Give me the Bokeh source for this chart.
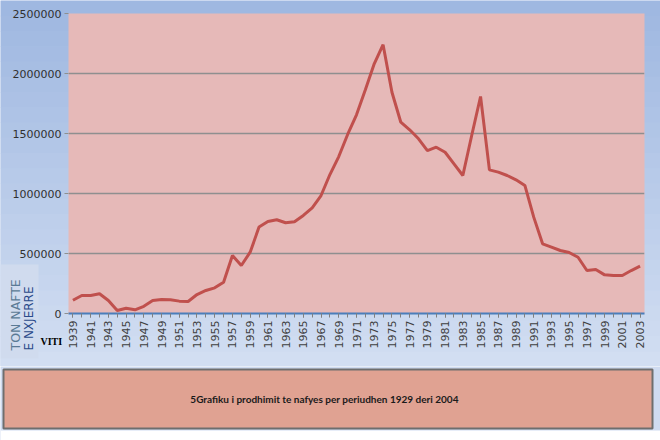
from math import pi
from bokeh.plotting import figure
from bokeh.models import FixedTicker, Label, NumeralTickFormatter, Range1d, GridBox
from bokeh.embed import file_html
from bokeh.resources import INLINE

years = list(range(1939, 2004))
production = [110000, 150000, 150000, 164000, 108000, 25000, 44000, 31000, 60000, 108000,
              117000, 114000, 103000, 100000, 158000, 192000, 214000, 261000, 483000, 400000,
              511000, 720000, 767000, 781000, 756000, 764000, 817000, 881000, 983000, 1158000,
              1308000, 1492000, 1656000, 1864000, 2081000, 2240000, 1844000, 1594000, 1531000, 1456000,
              1358000, 1386000, 1344000, 1247000, 1150000, 1483000, 1808000, 1197000, 1178000, 1150000,
              1114000, 1067000, 803000, 581000, 553000, 525000, 508000, 469000, 358000, 367000,
              322000, 317000, 317000, 358000, 394000]
y_ticks = [0, 500000, 1000000, 1500000, 2000000, 2500000]
label_years = years[::2]
caption = "5Grafiku i prodhimit te nafyes per periudhen 1929 deri 2004"
y_title_1 = "TON NAFTE"
y_title_2 = "E NXJERRE"
x_title = "VITI"

W, H1 = 660, 366
FL, FB = 68, 313  # frame left / bottom on the page


def blank(height):
    f = figure(width=W, height=height, x_range=Range1d(0, W), y_range=Range1d(height, 0),
               output_backend="svg", toolbar_location=None, min_border=0,
               x_axis_location=None, y_axis_location=None)
    f.frame_align = False
    f.outline_line_color = None
    f.grid.grid_line_color = None
    return f


# background gradient (underlay)
bg = blank(H1)
bg.background_fill_color = "#b7cae9"
bg.border_fill_color = "#b7cae9"
n = 24
c0, c1 = (0x9f, 0xb8, 0xe1), (0xd2, 0xde, 0xf2)
for i in range(n):
    t = i / (n - 1)
    col = "#%02x%02x%02x" % tuple(int(a + (b - a) * t) for a, b in zip(c0, c1))
    bg.quad(left=0, right=W, top=H1 * i / n, bottom=H1 * (i + 1) / n + 0.5,
            fill_color=col, line_color=None)
bg.quad(left=0, right=38, top=264, bottom=358, fill_color="#d0dbee", line_color=None)

# main chart
p = figure(width=W, height=H1, x_range=Range1d(1938.5, 2003.5), y_range=Range1d(0, 2500000),
           output_backend="svg", toolbar_location=None,
           min_border_left=FL, min_border_right=16, min_border_top=13, min_border_bottom=H1 - FB)
p.frame_align = False
p.background_fill_color = "#e6b9b8"
p.border_fill_alpha = 0
p.outline_line_color = None

p.line(years, production, line_color="#c0504d", line_width=3)

p.xgrid.grid_line_color = None
p.ygrid.grid_line_color = "#8f8f8f"
p.ygrid.grid_line_width = 1.5

p.xaxis.ticker = FixedTicker(ticks=label_years, minor_ticks=years)
p.xaxis.major_label_orientation = pi / 2
p.xaxis.axis_line_color = "#4a7ebb"
p.xaxis.axis_line_width = 2
p.xaxis.major_tick_line_color = "#808080"
p.xaxis.minor_tick_line_color = "#808080"
p.xaxis.major_tick_out = 4
p.xaxis.major_tick_in = 0
p.xaxis.minor_tick_out = 4
p.xaxis.minor_tick_in = 0
p.xaxis.major_label_standoff = 3
p.xaxis.major_label_text_font = "DejaVu Sans"
p.xaxis.major_label_text_font_size = "11px"
p.xaxis.major_label_text_color = "#404040"

p.yaxis.ticker = FixedTicker(ticks=y_ticks)
p.yaxis.formatter = NumeralTickFormatter(format="0")
p.yaxis.axis_line_color = None
p.yaxis.major_tick_line_color = "#8f8f8f"
p.yaxis.major_tick_out = 4
p.yaxis.major_tick_in = 0
p.yaxis.minor_tick_line_color = None
p.yaxis.major_label_standoff = 3
p.yaxis.major_label_text_font = "DejaVu Sans"
p.yaxis.major_label_text_font_size = "11px"
p.yaxis.major_label_text_color = "#303030"

# axis titles (overlay, page coordinates)
ov = blank(H1)
ov.background_fill_alpha = 0
ov.border_fill_alpha = 0
ov.add_layout(Label(x=15, y=350, text=y_title_1, angle=pi / 2, text_align="left",
                    text_baseline="middle", text_font="DejaVu Sans", text_font_size="12.5px",
                    text_color="#5a7a95"))
ov.add_layout(Label(x=28, y=350, text=y_title_2, angle=pi / 2, text_align="left",
                    text_baseline="middle", text_font="DejaVu Sans", text_font_size="12px",
                    text_color="#2a4a8a"))
ov.add_layout(Label(x=40, y=341, text=x_title, text_align="left", text_baseline="middle",
                    text_font="Liberation Serif", text_font_size="10px",
                    text_font_style="bold", text_color="#000000"))

# caption box
H2 = 440 - H1
p2 = blank(H2)
p2.background_fill_color = "#cfdbf0"
p2.border_fill_color = "#cfdbf0"
p2.quad(left=0, right=W, top=H2 - 10, bottom=H2, fill_color="#ffffff", line_color=None)
p2.quad(left=3, right=652, top=3, bottom=62, fill_color="#e0a292",
        line_color="#6e6e6e", line_width=2)
p2.add_layout(Label(x=324, y=32, text=caption, text_align="center", text_baseline="middle",
                    text_font="Lato", text_font_size="10px", text_font_style="bold",
                    text_color="#1a1a1a"))

grid = GridBox(children=[(bg, 0, 0), (p, 0, 0), (ov, 0, 0), (p2, 1, 0)])
open("out.html", "w").write(file_html(grid, INLINE))
